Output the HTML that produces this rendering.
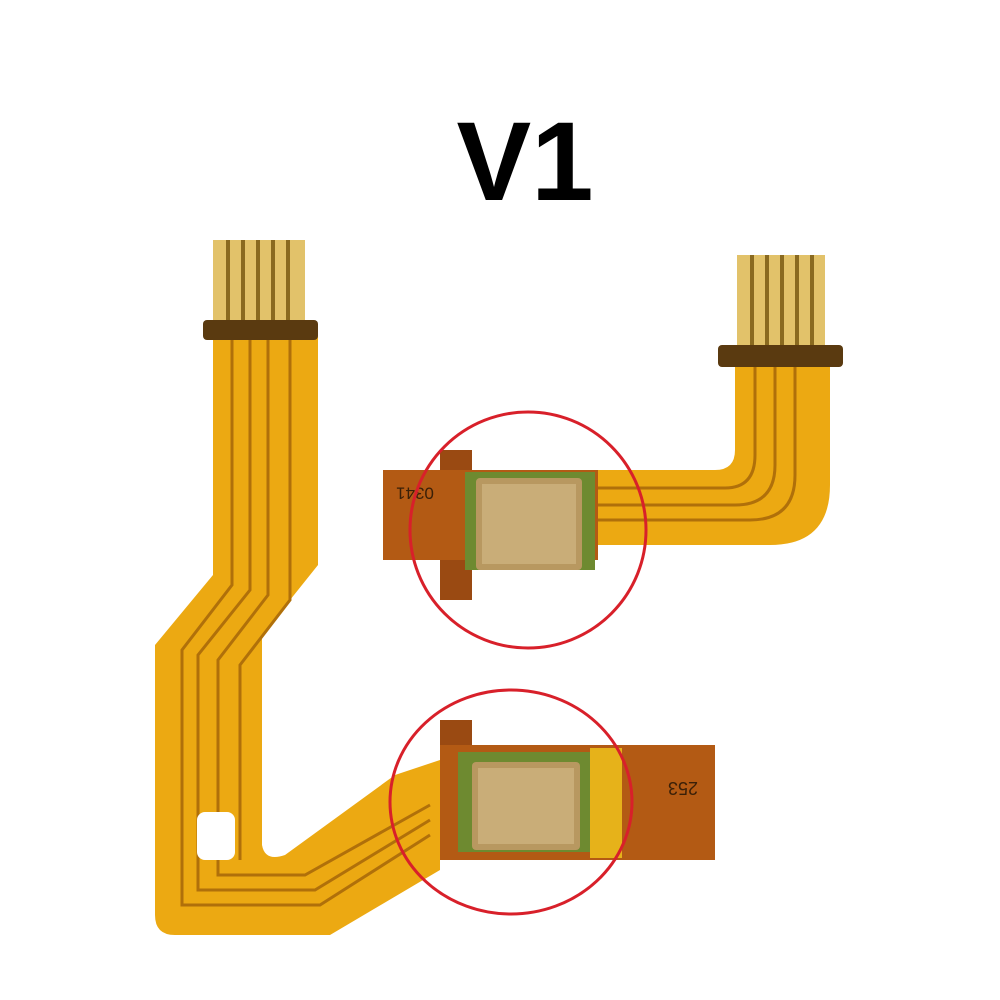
<!DOCTYPE html>
<html><head><meta charset="utf-8"><style>html,body{margin:0;padding:0;background:#fff;width:1000px;height:1000px;overflow:hidden}</style></head>
<body>
<svg width="1000" height="1000" viewBox="0 0 1000 1000" xmlns="http://www.w3.org/2000/svg">
<rect width="1000" height="1000" fill="#fff"/>
<text x="525" y="200" text-anchor="middle" font-family="Liberation Sans, sans-serif" font-weight="bold" font-size="112" fill="#000">V1</text>

<!-- Left cable -->
<rect x="213" y="240" width="92" height="90" fill="#e2c26a"/>
<g stroke="#8a6a20" stroke-width="4">
<line x1="228" y1="240" x2="228" y2="325"/><line x1="243" y1="240" x2="243" y2="325"/><line x1="258" y1="240" x2="258" y2="325"/><line x1="273" y1="240" x2="273" y2="325"/><line x1="288" y1="240" x2="288" y2="325"/>
</g>
<path d="M213,335 L318,335 L318,565 L262,635 L262,845 Q265,862 285,855 L395,775 L440,760 L440,870 L330,935 L175,935 Q155,935 155,915 L155,645 L213,575 Z" fill="#eca912"/>
<rect x="203" y="320" width="115" height="20" rx="4" fill="#5a3a10"/>
<g fill="none" stroke="#b0700a" stroke-width="3">
<path d="M232,340 L232,585 L182,650 L182,905 L320,905 L430,835"/>
<path d="M250,340 L250,590 L198,655 L198,890 L315,890 L430,820"/>
<path d="M268,340 L268,595 L218,660 L218,875 L305,875 L430,805"/>
<path d="M290,340 L290,600 L240,665 L240,860"/>
</g>
<rect x="197" y="812" width="38" height="48" rx="8" fill="#fff"/>

<!-- Bottom right piece -->
<rect x="440" y="720" width="32" height="30" fill="#9a4a12"/>
<rect x="440" y="745" width="275" height="115" fill="#b35a14"/>
<rect x="590" y="748" width="32" height="110" fill="#e6b21a"/>
<rect x="458" y="752" width="132" height="100" fill="#6e8a30"/>
<rect x="472" y="762" width="108" height="88" rx="4" fill="#b89860"/>
<rect x="478" y="768" width="96" height="76" fill="#c9ad78"/>
<text x="683" y="768" transform="rotate(180 683 775)" text-anchor="middle" font-family="Liberation Sans, sans-serif" font-size="18" fill="#3a2008">253</text>

<!-- Top right piece -->
<rect x="737" y="255" width="88" height="95" fill="#e2c26a"/>
<g stroke="#8a6a20" stroke-width="4">
<line x1="752" y1="255" x2="752" y2="345"/><line x1="767" y1="255" x2="767" y2="345"/><line x1="782" y1="255" x2="782" y2="345"/><line x1="797" y1="255" x2="797" y2="345"/><line x1="812" y1="255" x2="812" y2="345"/>
</g>
<path d="M735,360 L830,360 L830,485 Q830,545 770,545 L590,545 L590,470 L715,470 Q735,470 735,450 Z" fill="#eca912"/>
<g fill="none" stroke="#b0700a" stroke-width="3">
<path d="M755,365 L755,455 Q755,488 725,488 L590,488"/>
<path d="M775,365 L775,465 Q775,505 735,505 L590,505"/>
<path d="M795,365 L795,475 Q795,520 750,520 L590,520"/>
</g>
<rect x="718" y="345" width="125" height="22" rx="4" fill="#5a3a10"/>
<rect x="440" y="450" width="32" height="25" fill="#9a4a12"/>
<rect x="440" y="555" width="32" height="45" fill="#9a4a12"/>
<rect x="383" y="470" width="215" height="90" fill="#b35a14"/>
<rect x="465" y="472" width="130" height="98" fill="#6e8a30"/>
<rect x="476" y="478" width="106" height="92" rx="4" fill="#b89860"/>
<rect x="482" y="484" width="94" height="80" fill="#c9ad78"/>
<text x="415" y="492" transform="rotate(180 415 492)" text-anchor="middle" dominant-baseline="middle" font-family="Liberation Sans, sans-serif" font-size="17" fill="#3a2008">0341</text>

<!-- Red circles -->
<ellipse cx="528" cy="530" rx="118" ry="118" fill="none" stroke="#d8202a" stroke-width="3"/>
<ellipse cx="511" cy="802" rx="121" ry="112" fill="none" stroke="#d8202a" stroke-width="3"/>
</svg>
</body></html>
